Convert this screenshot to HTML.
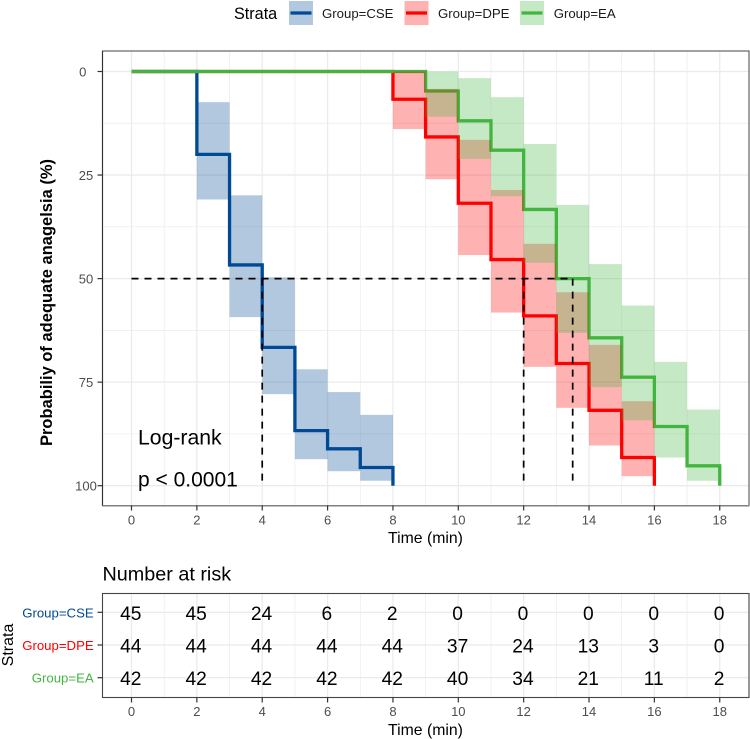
<!DOCTYPE html>
<html>
<head>
<meta charset="utf-8">
<title>Kaplan-Meier curve</title>
<style>
html,body{margin:0;padding:0;background:#fff;width:750px;height:739px;overflow:hidden}
svg{display:block;font-family:"Liberation Sans",Arial,sans-serif}
</style>
</head>
<body>
<svg id="chart" width="750" height="739" viewBox="0 0 750 739" xmlns="http://www.w3.org/2000/svg">
  <g>
    <text x="234" y="19" font-size="16.2" fill="#000">Strata</text>
    <rect x="289" y="1" width="24" height="24" fill="#004A94" fill-opacity="0.3"/>
    <line x1="290.5" x2="311.5" y1="13" y2="13" stroke="#004A94" stroke-width="3.3"/>
    <text x="322" y="18" font-size="13.2" fill="#1a1a1a">Group=CSE</text>
    <rect x="404.5" y="1" width="24" height="24" fill="#FF0000" fill-opacity="0.3"/>
    <line x1="406" x2="427" y1="13" y2="13" stroke="#FF0000" stroke-width="3.3"/>
    <text x="438" y="18" font-size="13.2" fill="#1a1a1a">Group=DPE</text>
    <rect x="520" y="1" width="24" height="24" fill="#42B540" fill-opacity="0.3"/>
    <line x1="521.5" x2="542.5" y1="13" y2="13" stroke="#42B540" stroke-width="3.3"/>
    <text x="553.7" y="18" font-size="13.2" fill="#1a1a1a">Group=EA</text>
  </g>
  <g id="main-grid"></g>
  <g id="main-lines"></g>
  <g id="main-bands"></g>
  <g id="main-median"></g>
  <rect x="102.5" y="51" width="646.5" height="454.7" fill="none" stroke="#555" stroke-width="1.1"/>
  <line x1="102.5" x2="102.5" y1="51" y2="506" stroke="#333" stroke-width="1.1"/>
  <line x1="102.5" x2="749.5" y1="505.7" y2="505.7" stroke="#808080" stroke-width="1.5"/>
  <g id="main-axes"></g>
  <text x="138" y="444.3" font-size="21.2" fill="#000">Log-rank</text>
  <text x="138" y="486.5" font-size="21" fill="#000">p &lt; 0.0001</text>
  <text transform="translate(52,302.5) rotate(-90)" text-anchor="middle" font-size="16.5" font-weight="bold" fill="#000">Probabiliy of adequate anagelsia (%)</text>
  <text x="425.5" y="543" text-anchor="middle" font-size="15.8" fill="#000">Time (min)</text>

  <text x="102.5" y="580.5" font-size="19.8" fill="#000">Number at risk</text>
  <g id="risk-grid"></g>
  <g id="risk-values"></g>
  <rect x="102.5" y="593.5" width="646.5" height="104" fill="none" stroke="#444" stroke-width="1.1"/>
  <g id="risk-axes"></g>
  <text transform="translate(13,645) rotate(-90)" text-anchor="middle" font-size="16" fill="#000">Strata</text>
  <text x="425.5" y="735" text-anchor="middle" font-size="15.8" fill="#000">Time (min)</text>
</svg>
<script>
// ---- data ----
const xTicks = [0, 2, 4, 6, 8, 10, 12, 14, 16, 18];
const xMinorTicks = [1, 3, 5, 7, 9, 11, 13, 15, 17];
const yTicks = [0, 25, 50, 75, 100];
const yMinorTicks = [12.5, 37.5, 62.5, 87.5];

const strataNames = ['Group=CSE', 'Group=DPE', 'Group=EA'];
const strataKeys = ['cse', 'dpe', 'ea'];
const strataColors = ['#004A94', '#FF0000', '#42B540'];

const cseTimes = [0, 2, 3, 4, 5, 6, 7, 8];
const cseValues = [0, 20, 46.7, 66.6, 86.7, 91.1, 95.6, 100];
const cseUpper = [0, 7.4, 29.9, 49.7, 71.9, 77.4, 82.9];
const cseLower = [0, 30.9, 59.3, 77.9, 93.6, 96.5, 98.8];

const dpeTimes = [0, 8, 9, 10, 11, 12, 13, 14, 15, 16];
const dpeValues = [0, 6.7, 15.8, 31.8, 45.4, 59, 70.5, 81.8, 93.2, 100];
const dpeUpper = [0, 0, 4.2, 16.5, 28.6, 41.6, 53.3, 66, 79.6];
const dpeLower = [0, 13.9, 26, 44.3, 58.2, 71.3, 81.2, 90.3, 97.7];

const eaTimes = [0, 9, 10, 11, 12, 13, 14, 15, 16, 17, 18];
const eaValues = [0, 4.7, 11.9, 19, 33.3, 50, 64.3, 73.8, 85.7, 95.2, 100];
const eaUpper = [0, 0, 1.6, 6.2, 17.5, 32.2, 46.5, 56.5, 70.1, 81.6];
const eaLower = [0, 10.9, 21.1, 30.1, 46.2, 63.1, 76.2, 84.2, 93.2, 98.8];

const medianLevel = 50;
const medianTimes = [4, 12, 13.5];

const riskCse = [45, 45, 24, 6, 2, 0, 0, 0, 0, 0];
const riskDpe = [44, 44, 44, 44, 44, 37, 24, 13, 3, 0];
const riskEa = [42, 42, 42, 42, 42, 40, 34, 21, 11, 2];

// ---- axis functions ----
function xScale(t) { return 131.5 + 32.68 * t; }
function yScale(p) { return 71.5 + 4.142 * p; }
function riskY(i) { return 612.3 + 32.7 * i; }

const NS = 'http://www.w3.org/2000/svg';
function make(parentId, tag, props, content) {
  const el = document.createElementNS(NS, tag);
  for (const k in props) el.setAttribute(k, props[k]);
  if (content !== undefined) el.textContent = content;
  document.getElementById(parentId).appendChild(el);
  return el;
}
function gridLine(parentId, x1, y1, x2, y2, width, name) {
  const el = make(parentId, 'line', { x1: x1, y1: y1, x2: x2, y2: y2, stroke: '#EBEBEB', 'stroke-width': width });
  
  
}
function tickMark(parentId, x1, y1, x2, y2, name) {
  const el = make(parentId, 'line', { x1: x1, y1: y1, x2: x2, y2: y2, stroke: '#333', 'stroke-width': 1.2 });
  
  
}
function tickLabel(parentId, x, y, anchor, text, fill, name, size) {
  const el = make(parentId, 'text', { x: x, y: y, 'text-anchor': anchor, 'font-size': size || 13, fill: fill }, text);
  
  
}

// ---- main panel grid ----
const L = 102.5, R = 749, T = 51, B = 505.5;
xMinorTicks.forEach(function (t) { gridLine('main-grid', xScale(t), T, xScale(t), B, 0.7, 'x-minor-gridline-' + t); });
yMinorTicks.forEach(function (p) { gridLine('main-grid', L, yScale(p), R, yScale(p), 0.7, 'y-minor-gridline-' + p); });
xTicks.forEach(function (t) { gridLine('main-grid', xScale(t), T, xScale(t), B, 1.3, 'x-major-gridline-' + t); });
yTicks.forEach(function (p) { gridLine('main-grid', L, yScale(p), R, yScale(p), 1.3, 'y-major-gridline-' + p); });

// ---- curves and bands ----
function stepPath(times, values) {
  let d = 'M' + xScale(times[0]) + ' ' + yScale(values[0]);
  for (let i = 1; i < times.length; i++) {
    d += 'H' + xScale(times[i]) + 'V' + yScale(values[i]);
  }
  return d;
}
function drawCurve(times, values, color, key) {
  const el = make('main-lines', 'path', { d: stepPath(times, values), fill: 'none', stroke: color, 'stroke-width': 3.3, 'stroke-linejoin': 'miter' });
  
  
}
function drawBand(times, upper, lower, color, key) {
  for (let i = 0; i < upper.length; i++) {
    if (lower[i] === upper[i]) continue;
    const el = make('main-bands', 'rect', {
      x: xScale(times[i]),
      y: yScale(upper[i]),
      width: xScale(times[i + 1]) - xScale(times[i]),
      height: yScale(lower[i]) - yScale(upper[i]),
      fill: color,
      'fill-opacity': 0.3
    });
    
    
  }
}
drawCurve(cseTimes, cseValues, strataColors[0], strataKeys[0]);
drawCurve(dpeTimes, dpeValues, strataColors[1], strataKeys[1]);
drawCurve(eaTimes, eaValues, strataColors[2], strataKeys[2]);
drawBand(cseTimes, cseUpper, cseLower, strataColors[0], strataKeys[0]);
drawBand(dpeTimes, dpeUpper, dpeLower, strataColors[1], strataKeys[1]);
drawBand(eaTimes, eaUpper, eaLower, strataColors[2], strataKeys[2]);

// ---- median reference lines ----
const medianH = make('main-median', 'line', {
  x1: xScale(0), x2: xScale(Math.max.apply(null, medianTimes)),
  y1: yScale(medianLevel), y2: yScale(medianLevel),
  stroke: '#000', 'stroke-width': 1.7, 'stroke-dasharray': '7 6'
});


medianTimes.forEach(function (t) {
  const el = make('main-median', 'line', {
    x1: xScale(t), x2: xScale(t),
    y1: yScale(medianLevel), y2: yScale(100),
    stroke: '#000', 'stroke-width': 1.7, 'stroke-dasharray': '7 6'
  });
  
  
});

// ---- main axes ----
xTicks.forEach(function (t) {
  tickMark('main-axes', xScale(t), B, xScale(t), B + 5, 'x-tick-' + t);
  tickLabel('main-axes', xScale(t), B + 19, 'middle', String(t), '#4D4D4D', 'x-tick-label-' + t);
});
yTicks.forEach(function (p) {
  tickMark('main-axes', L - 5, yScale(p), L, yScale(p), 'y-tick-' + p);
  tickLabel('main-axes', p === 0 ? 82.7 : 86, yScale(p) + 5, 'middle', String(p), '#4D4D4D', 'y-tick-label-' + p);
});

// ---- risk table ----
const RT = 593.5, RB = 697.5;
xMinorTicks.forEach(function (t) { gridLine('risk-grid', xScale(t), RT, xScale(t), RB, 0.7, 'risk-x-minor-gridline-' + t); });
xTicks.forEach(function (t) { gridLine('risk-grid', xScale(t), RT, xScale(t), RB, 1.3, 'risk-x-major-gridline-' + t); });
strataKeys.forEach(function (k, i) { gridLine('risk-grid', L, riskY(i), R, riskY(i), 1.3, 'risk-row-gridline-' + k); });

const riskRows = [riskCse, riskDpe, riskEa];
riskRows.forEach(function (row, i) {
  row.forEach(function (v, j) {
    const el = make('risk-values', 'text', {
      x: xScale(xTicks[j]) - 0.7,
      y: riskY(i) + 7.5,
      'text-anchor': 'middle',
      'font-size': 19.2,
      fill: '#000'
    }, String(v));
    
    
  });
  tickMark('risk-axes', L - 5, riskY(i), L, riskY(i), 'risk-y-tick-' + strataKeys[i]);
  tickLabel('risk-axes', 93.7, riskY(i) + 5, 'end', strataNames[i], strataColors[i], 'risk-y-label-' + strataKeys[i], 13.2);
});
xTicks.forEach(function (t) {
  tickMark('risk-axes', xScale(t), RB, xScale(t), RB + 5, 'risk-x-tick-' + t);
  tickLabel('risk-axes', xScale(t), RB + 18.5, 'middle', String(t), '#4D4D4D', 'risk-x-tick-label-' + t);
});
</script>
</body>
</html>
